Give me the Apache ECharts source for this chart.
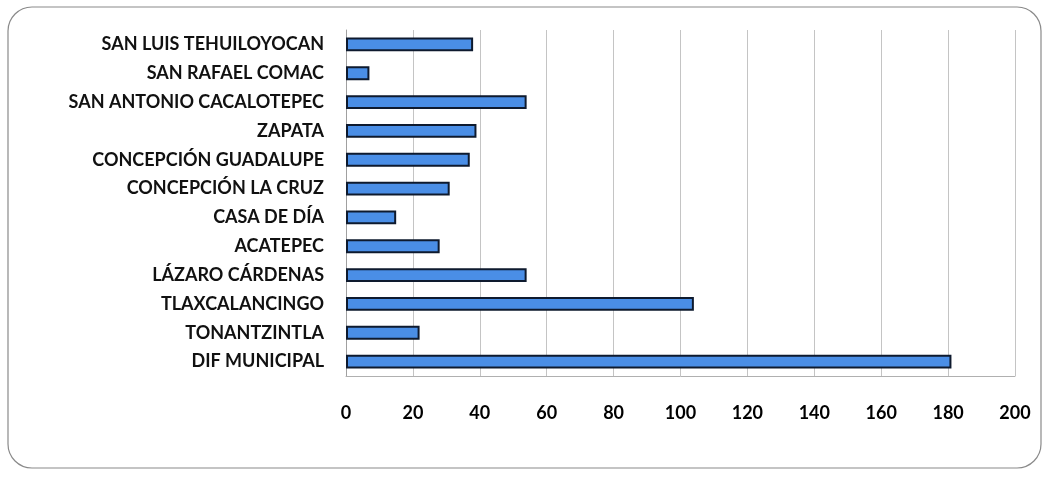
<!DOCTYPE html>
<html><head><meta charset="utf-8">
<script src="https://cdn.jsdelivr.net/npm/echarts@6/dist/echarts.min.js"></script>
<style>html,body{margin:0;padding:0;background:#fff}#c{width:1047px;height:478px}</style>
</head><body><div id="c"></div>
<script>
const categories = ["DIF MUNICIPAL","TONANTZINTLA","TLAXCALANCINGO","LÁZARO CÁRDENAS","ACATEPEC","CASA DE DÍA","CONCEPCIÓN LA CRUZ","CONCEPCIÓN GUADALUPE","ZAPATA","SAN ANTONIO CACALOTEPEC","SAN RAFAEL COMAC","SAN LUIS TEHUILOYOCAN"];
const values = [181,22,104,54,28,15,31,37,39,54,7,38];
const chart = echarts.init(document.getElementById('c'), null, {renderer:'canvas'});
chart.setOption({
  animation:false,
  backgroundColor:'#fff',
  graphic:[{type:'rect',shape:{x:8,y:7,width:1033,height:461,r:24},style:{fill:'none',stroke:'#8a8a8a',lineWidth:1.2},silent:true}],
  grid:{left:346,right:32,top:30,bottom:102},
  xAxis:{type:'value',min:0,max:200,interval:20,
    axisLine:{show:true,lineStyle:{color:'#b0b0b0'}},axisTick:{show:false},
    splitLine:{show:true,lineStyle:{color:'#c4c4c4',width:1}},
    axisLabel:{margin:28,color:'#000',fontFamily:'Lato',fontSize:18,fontWeight:'bold'}},
  yAxis:{type:'category',data:categories,
    axisLine:{show:true,lineStyle:{color:'#a0a0a0'}},axisTick:{show:false},
    axisLabel:{margin:22,color:'#111',fontFamily:'Lato',fontSize:18,fontWeight:'bold'}},
  series:[{type:'bar',data:values,barCategoryGap:'52%',
    itemStyle:{color:'#4a8ee6',borderColor:'#0e1a2e',borderWidth:2}}]
});
</script></body></html>
